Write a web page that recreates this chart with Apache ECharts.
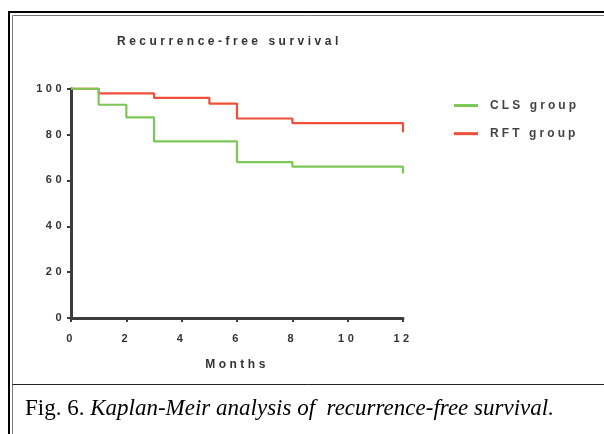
<!DOCTYPE html>
<html>
<head>
<meta charset="utf-8">
<script src="https://cdn.jsdelivr.net/npm/echarts@6/dist/echarts.min.js"></script>
<style>html,body{margin:0;padding:0;background:#fff}#c{width:604px;height:434px}</style>
</head>
<body>
<div id="c"></div>
<script>
// Prism-style wide letter spacing for bold sans text
(function(){
  var d = Object.getOwnPropertyDescriptor(CanvasRenderingContext2D.prototype, 'font');
  Object.defineProperty(CanvasRenderingContext2D.prototype, 'font', {
    configurable: true,
    get: function(){ return d.get.call(this); },
    set: function(v){
      d.set.call(this, v);
      var s = '0px';
      if (/bold/.test(v)) {
        if (/Arial/.test(v)) s = '3.1px';
        else if (/Liberation Sans/.test(v)) s = '3.5px';
      }
      try { this.letterSpacing = s; } catch(e){}
    }
  });
})();

var titleText = 'Recurrence-free survival';
var xName = 'Months';
var seriesNames = ['CLS group', 'RFT group'];
var clsMonths = [0, 1, 2, 3, 6, 8, 12];
var clsValues = [100, 93, 87.5, 77, 68, 66, 63];
var rftMonths = [0, 1, 3, 5, 6, 8, 12];
var rftValues = [100, 98, 96, 93.5, 87, 85, 81];
var xTicks = [0, 2, 4, 6, 8, 10, 12];
var yTicks = [0, 20, 40, 60, 80, 100];
var captionLead = 'Fig. 6. ';
var captionBody = 'Kaplan-Meir analysis of  recurrence-free survival.';

function pairs(xs, ys){ return xs.map(function(x, i){ return [x, ys[i]]; }); }

var axisColor = '#3c3c3c';
var sans = 'Liberation Sans';
var green = '#7cc756', red = '#f04e38';
var chart = echarts.init(document.getElementById('c'), null, {renderer: 'canvas'});
chart.setOption({
  animation: false,
  backgroundColor: '#fff',
  title: {
    text: titleText, left: 117, top: 34, padding: 0,
    textStyle: {fontFamily: sans, fontWeight: 'bold', fontSize: 12, color: '#333'}
  },
  legend: {
    orient: 'vertical', left: 454, top: 98, padding: 0,
    itemWidth: 24, itemHeight: 3, itemGap: 13, icon: 'rect',
    data: seriesNames,
    textStyle: {fontFamily: 'Arial', fontWeight: 'bold', fontSize: 12, color: '#444', padding: [0, 0, 0, 7]}
  },
  grid: {left: 71, top: 88.7, width: 332, height: 229.3, containLabel: false},
  xAxis: {
    type: 'value', min: xTicks[0], max: xTicks[xTicks.length - 1], interval: 2,
    name: xName, nameLocation: 'middle', nameGap: 39,
    nameTextStyle: {fontFamily: sans, fontWeight: 'bold', fontSize: 12, color: '#333'},
    axisLine: {show: true, lineStyle: {color: axisColor, width: 3}},
    axisTick: {show: true, length: 4, lineStyle: {color: axisColor, width: 2}},
    axisLabel: {fontFamily: sans, fontWeight: 'bold', fontSize: 11, color: '#333', margin: 14,
      formatter: function(v){ return xTicks.indexOf(v) >= 0 ? String(v) : ''; }},
    splitLine: {show: false}
  },
  yAxis: {
    type: 'value', min: yTicks[0], max: yTicks[yTicks.length - 1], interval: 20,
    axisLine: {show: true, lineStyle: {color: axisColor, width: 3}},
    axisTick: {show: true, length: 4, lineStyle: {color: axisColor, width: 2}},
    axisLabel: {fontFamily: sans, fontWeight: 'bold', fontSize: 11, color: '#333', margin: 6,
      formatter: function(v){ return yTicks.indexOf(v) >= 0 ? String(v) : ''; }},
    splitLine: {show: false}
  },
  series: [
    {name: seriesNames[0], type: 'line', step: 'end', symbol: 'none', z: 4,
      data: pairs(clsMonths, clsValues),
      itemStyle: {color: green}, lineStyle: {color: green, width: 2.2}},
    {name: seriesNames[1], type: 'line', step: 'end', symbol: 'none', z: 3,
      data: pairs(rftMonths, rftValues),
      itemStyle: {color: red}, lineStyle: {color: red, width: 2.2}}
  ],
  graphic: [
    {type: 'line', shape: {x1: 8, y1: 12, x2: 604, y2: 12}, style: {stroke: '#000', lineWidth: 2}, silent: true},
    {type: 'line', shape: {x1: 9, y1: 11, x2: 9, y2: 434}, style: {stroke: '#000', lineWidth: 2}, silent: true},
    {type: 'line', shape: {x1: 12.5, y1: 15.5, x2: 604, y2: 15.5}, style: {stroke: '#777', lineWidth: 1}, silent: true},
    {type: 'line', shape: {x1: 12.5, y1: 15.5, x2: 12.5, y2: 434}, style: {stroke: '#777', lineWidth: 1}, silent: true},
    {type: 'line', shape: {x1: 12.5, y1: 384.5, x2: 604, y2: 384.5}, style: {stroke: '#222', lineWidth: 1}, silent: true},
    {type: 'text', silent: true, style: {
      x: 25, y: 409, verticalAlign: 'middle',
      text: '{a|' + captionLead + '}{b|' + captionBody + '}',
      rich: {
        a: {fontFamily: 'Liberation Serif', fontSize: 23, color: '#111'},
        b: {fontFamily: 'Liberation Serif', fontStyle: 'italic', fontSize: 23, color: '#111'}
      }
    }}
  ]
});
</script>
</body>
</html>
